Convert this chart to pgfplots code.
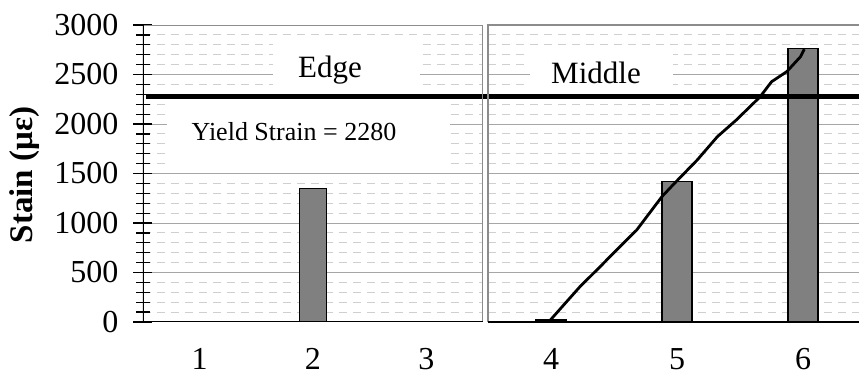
\documentclass[border=0pt]{standalone}
\usepackage{fontspec}
\setmainfont{Liberation Serif}
\usepackage{pgfplots}
\pgfplotsset{compat=1.18}

\definecolor{barfill}{HTML}{808080}
\definecolor{majgrid}{HTML}{A6A6A6}
\definecolor{mingrid}{HTML}{CFCFCF}
\definecolor{frame}{HTML}{8C8C8C}

\pgfplotsset{
  strainaxis/.style={
    scale only axis, height=148.5pt,
    ymin=0, ymax=3000,
    ytick={0,500,...,3000}, minor y tick num=4,
    ymajorgrids, yminorgrids,
    major grid style={majgrid, line width=0.5pt},
    minor grid style={mingrid, dash pattern=on 4pt off 3pt, line width=0.5pt},
    axis line style={draw=none},
    xtick style={draw=none},
    ytick pos=left,
    tick align=center, major tick length=9.5pt, minor tick length=7pt,
    /pgf/number format/1000 sep={},
    /pgf/number format/assume math mode=true,
    tick label style={font=\fontsize{16}{19}\selectfont},
    xticklabel style={anchor=base, yshift=-19pt},
  }
}

\begin{document}
\begin{tikzpicture}
\useasboundingbox (0,0) rectangle (429.5pt,188pt);

% edge
\begin{axis}[strainaxis,
  at={(71.5pt,27pt)}, anchor=south west, width=170pt,
  xmin=0.5, xmax=3.5, xtick={1,2,3},
  ytick style={black, line width=0.6pt},
  yticklabel style={anchor=east, xshift=-4pt},
  ylabel={\bfseries Stain (με)},
  every axis y label/.style={at={([xshift=-59pt]rel axis cs:0,0.495)}, rotate=90, anchor=center,
    font=\fontsize{16.5}{19}\selectfont},
]
\fill[white] (axis cs:1.647,2323) rectangle (axis cs:2.944,2848);
\fill[white] (axis cs:0.712,1535) rectangle (axis cs:3.209,2253);
\node[font=\fontsize{15.5}{18}\selectfont] at (axis cs:2.15,2545) {Edge};
\node[font=\fontsize{13}{16}\selectfont] at (axis cs:1.832,1919) {Yield Strain = 2280};
\addplot[ybar, bar width=0.238, fill=barfill, draw=black, line width=0.7pt]
  coordinates {(2,1350)};
\addplot[black, line width=2.5pt] coordinates {(0.53,2280) (3.5,2280)};
\draw[frame, line width=0.8pt] (rel axis cs:0,1) -- (rel axis cs:1,1) -- (rel axis cs:1,0);
\draw[black, line width=0.8pt] (rel axis cs:0,1) -- (rel axis cs:0,0) -- (rel axis cs:1,0);
\end{axis}

% middle
\begin{axis}[strainaxis,
  at={(244pt,27pt)}, anchor=south west, width=185.5pt,
  xmin=3.5, xmax=6.444, xtick={4,5,6},
  yticklabels={}, ytick style={draw=none},
  clip=false,
]
\fill[white] (axis cs:3.833,2293) rectangle (axis cs:4.968,2768);
\node[font=\fontsize{15.5}{18}\selectfont] at (axis cs:4.357,2515) {Middle};
\addplot[ybar, bar width=0.238, fill=black, draw=black, line width=0.7pt]
  coordinates {(4,25)};
\addplot[ybar, bar width=0.238, fill=barfill, draw=black, line width=0.7pt]
  coordinates {(5,1420) (6,2760)};
\addplot[black, line width=1.4pt, line join=round] coordinates {
  (3.99,13) (4.23,357) (4.39,559) (4.52,727) (4.68,929) (4.88,1266)
  (4.98,1401) (5.16,1636) (5.32,1872) (5.47,2040) (5.66,2276)
  (5.75,2427) (5.87,2528) (5.98,2680) (6.01,2755)};
\addplot[black, line width=2.5pt] coordinates {(3.46,2280) (6.444,2280)};
\draw[frame, line width=0.8pt] (rel axis cs:0,0) -- (rel axis cs:0,1) -- (rel axis cs:1,1);
\draw[black, line width=0.8pt] (rel axis cs:0,0) -- (rel axis cs:1,0);
\end{axis}
\end{tikzpicture}
\end{document}
